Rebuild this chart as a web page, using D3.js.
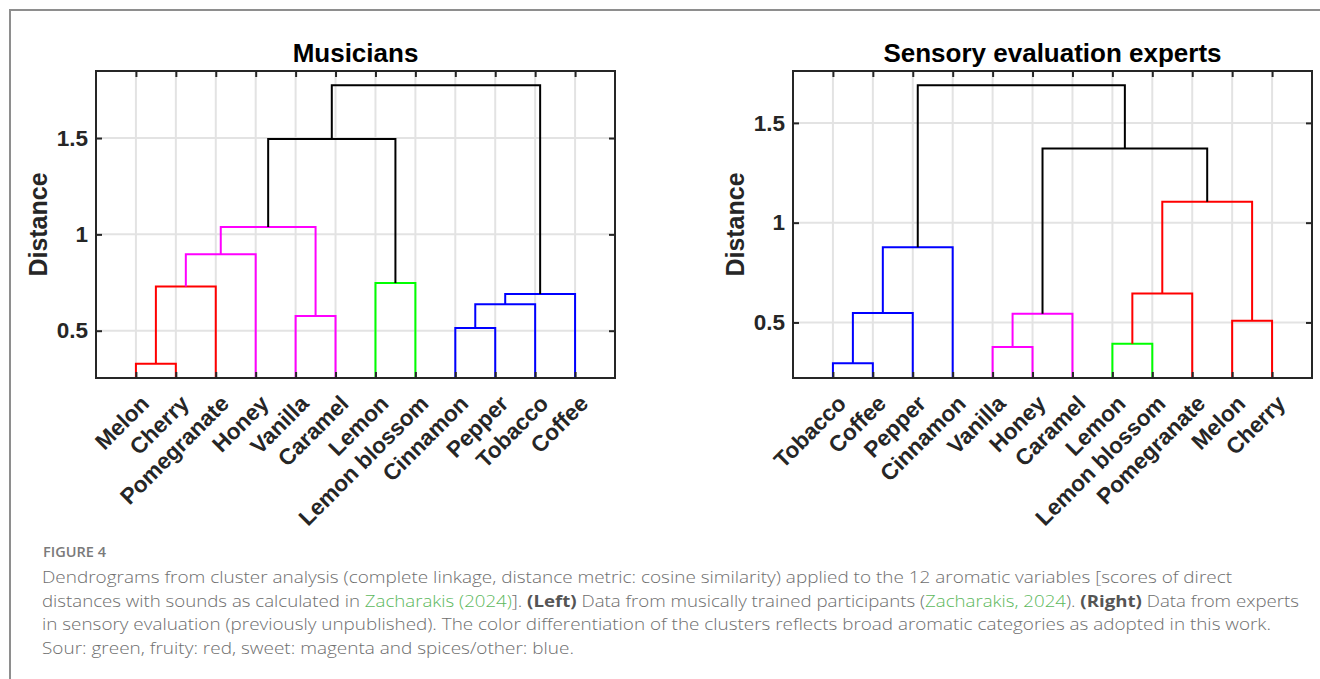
<!DOCTYPE html>
<html>
<head>
<meta charset="utf-8">
<script src="https://cdn.jsdelivr.net/npm/d3@7"></script>
<style>
  body { margin: 0; background: #fff; }
  svg { display: block; }
</style>
</head>
<body>
<script>
// leaves in the order they are drawn (left panel: musicians, right panel: sensory experts)
var leftLeaves = ["Melon", "Cherry", "Pomegranate", "Honey", "Vanilla", "Caramel",
                  "Lemon", "Lemon blossom", "Cinnamon", "Pepper", "Tobacco", "Coffee"];
// merges: leaves are 0-11, merged nodes are numbered from 12 on (like a linkage matrix)
var leftMerges = [[0, 1], [12, 2], [13, 3], [4, 5], [14, 15], [6, 7], [16, 17],
                  [8, 9], [19, 10], [20, 11], [18, 21]];
var leftHeights = [0.328, 0.730, 0.897, 0.576, 1.038, 0.747, 1.495, 0.514, 0.637, 0.690, 1.774];
var leftGroups = ["fruity", "fruity", "sweet", "sweet", "sweet", "sour", "none",
                  "spices", "spices", "spices", "none"];
var leftYLim = [0.2545, 1.848];

var rightLeaves = ["Tobacco", "Coffee", "Pepper", "Cinnamon", "Vanilla", "Honey", "Caramel",
                   "Lemon", "Lemon blossom", "Pomegranate", "Melon", "Cherry"];
var rightMerges = [[0, 1], [12, 2], [13, 3], [4, 5], [15, 6], [7, 8], [17, 9],
                   [10, 11], [18, 19], [16, 20], [14, 21]];
var rightHeights = [0.295, 0.547, 0.877, 0.377, 0.543, 0.393, 0.645, 0.508, 1.105, 1.372, 1.689];
var rightGroups = ["spices", "spices", "spices", "sweet", "sweet", "sour", "fruity",
                   "fruity", "fruity", "none", "none"];
var rightYLim = [0.2216, 1.760];

var yTicks = [0.5, 1, 1.5];

var groupColor = d3.scaleOrdinal()
    .domain(["sour", "fruity", "sweet", "spices", "none"])
    .range(["#00ff00", "#ff0000", "#ff00ff", "#0000ff", "#000000"]);

var W = 1320, H = 679;
var plotW = 519, plotTop = 71, plotBottom = 378;
var axisColor = "#262626";
var font = "'Liberation Sans', Arial, Helvetica, sans-serif";

var svg = d3.select("body").append("svg")
    .attr("width", W)
    .attr("height", H)
    .style("background", "#fff");

// figure border (only left and top are inside the crop)
svg.append("path")
    .attr("d", "M10," + H + "V10H" + W)
    .attr("fill", "none")
    .attr("stroke", "#8e8e8e")
    .attr("stroke-width", 2);

function dendrogram(cfg) {
    var g = svg.append("g");
    var x = d3.scaleLinear().domain([0, cfg.leaves.length + 1]).range([cfg.left, cfg.left + plotW]);
    var y = d3.scaleLinear().domain(cfg.ylim).range([plotBottom, plotTop]);

    // grid
    g.append("g").selectAll("line").data(d3.range(1, cfg.leaves.length + 1)).join("line")
        .attr("x1", d => x(d)).attr("x2", d => x(d))
        .attr("y1", plotTop).attr("y2", plotBottom)
        .attr("stroke", "#e3e3e3").attr("stroke-width", 2);
    g.append("g").selectAll("line").data(yTicks).join("line")
        .attr("x1", cfg.left).attr("x2", cfg.left + plotW)
        .attr("y1", d => y(d)).attr("y2", d => y(d))
        .attr("stroke", "#e3e3e3").attr("stroke-width", 2);

    // node positions: leaves at 1..n, merged nodes at the middle of their children
    var pos = cfg.leaves.map((d, i) => ({ x: i + 1, h: 0 }));
    cfg.merges.forEach(function (m, i) {
        pos.push({ x: (pos[m[0]].x + pos[m[1]].x) / 2, h: cfg.heights[i] });
    });

    var clipId = "clip" + cfg.left;
    svg.append("clipPath").attr("id", clipId).append("rect")
        .attr("x", cfg.left).attr("y", plotTop)
        .attr("width", plotW).attr("height", plotBottom - plotTop);

    g.append("g").attr("clip-path", "url(#" + clipId + ")")
        .selectAll("path").data(cfg.merges).join("path")
        .attr("d", function (m, i) {
            var a = pos[m[0]], b = pos[m[1]], h = cfg.heights[i];
            return "M" + x(a.x) + "," + y(a.h) + "V" + y(h) + "H" + x(b.x) + "V" + y(b.h);
        })
        .attr("fill", "none")
        .attr("stroke", (m, i) => groupColor(cfg.groups[i]))
        .attr("stroke-width", 2);

    // axes, ticks inside like matlab
    var xb = g.append("g").attr("transform", "translate(0," + plotBottom + ")")
        .call(d3.axisBottom(x).tickValues(d3.range(1, cfg.leaves.length + 1))
            .tickSize(-6).tickFormat(d => cfg.leaves[d - 1]));
    xb.selectAll("text")
        .attr("y", null).attr("dy", null)
        .attr("text-anchor", "end")
        .attr("transform", "translate(14,27) rotate(-45)");

    g.append("g").attr("transform", "translate(0," + plotTop + ")")
        .call(d3.axisTop(x).tickValues(d3.range(1, cfg.leaves.length + 1)).tickSize(-6).tickFormat(""));

    g.append("g").attr("transform", "translate(" + cfg.left + ",0)")
        .call(d3.axisLeft(y).tickValues(yTicks).tickSize(-6).tickPadding(8).tickFormat(d3.format("")));

    g.append("g").attr("transform", "translate(" + (cfg.left + plotW) + ",0)")
        .call(d3.axisRight(y).tickValues(yTicks).tickSize(-6).tickFormat(""));

    g.selectAll(".domain").remove();
    g.selectAll(".tick line").attr("stroke", axisColor).attr("stroke-width", 2);
    g.selectAll(".tick text")
        .attr("fill", axisColor)
        .style("font-family", font)
        .style("font-weight", "bold")
        .style("font-size", "22.5px");

    // frame
    g.append("rect")
        .attr("x", cfg.left).attr("y", plotTop)
        .attr("width", plotW).attr("height", plotBottom - plotTop)
        .attr("fill", "none").attr("stroke", axisColor).attr("stroke-width", 2);

    g.append("text")
        .attr("x", cfg.left + plotW / 2).attr("y", 62)
        .attr("text-anchor", "middle")
        .style("font-family", font).style("font-weight", "bold").style("font-size", "26px")
        .text(cfg.title);

    g.append("text")
        .attr("transform", "translate(" + (cfg.left - 49) + "," + ((plotTop + plotBottom) / 2) + ") rotate(-90)")
        .attr("text-anchor", "middle")
        .attr("fill", axisColor)
        .style("font-family", font).style("font-weight", "bold").style("font-size", "25px")
        .text("Distance");
}

dendrogram({ left: 96, title: "Musicians", leaves: leftLeaves, merges: leftMerges,
             heights: leftHeights, groups: leftGroups, ylim: leftYLim });
dendrogram({ left: 793, title: "Sensory evaluation experts", leaves: rightLeaves, merges: rightMerges,
             heights: rightHeights, groups: rightGroups, ylim: rightYLim });

// caption
var capFont = "'Open Sans', Lato, sans-serif";
svg.append("text")
    .attr("x", 43).attr("y", 557)
    .attr("textLength", 63).attr("lengthAdjust", "spacingAndGlyphs")
    .attr("fill", "#7a7a7a")
    .style("font-family", capFont).style("font-weight", 600).style("font-size", "13.5px")
    .text("FIGURE 4");

var captionLines = [
    { len: 1190, parts: [["Dendrograms from cluster analysis (complete linkage, distance metric: cosine similarity) applied to the 12 aromatic variables [scores of direct", ""]] },
    { len: 1257, parts: [["distances with sounds as calculated in ", ""], ["Zacharakis (2024)", "link"], ["]. ", ""],
                         ["(Left)", "b"], [" Data from musically trained participants (", ""], ["Zacharakis, 2024", "link"],
                         ["). ", ""], ["(Right)", "b"], [" Data from experts", ""]] },
    { len: 1229, parts: [["in sensory evaluation (previously unpublished). The color differentiation of the clusters reflects broad aromatic categories as adopted in this work.", ""]] },
    { len: 532, parts: [["Sour: green, fruity: red, sweet: magenta and spices/other: blue.", ""]] }
];

captionLines.forEach(function (line, i) {
    var t = svg.append("text")
        .attr("x", 42).attr("y", 583 + i * 23.7)
        .attr("textLength", line.len).attr("lengthAdjust", "spacingAndGlyphs")
        .attr("fill", "#6e6e6e")
        .style("font-family", capFont).style("font-size", "16.5px").style("font-weight", 300);
    line.parts.forEach(function (p) {
        var s = t.append("tspan").text(p[0]);
        if (p[1] === "link") s.attr("fill", "#5cb85c");
        if (p[1] === "b") s.attr("fill", "#555").style("font-weight", 700);
    });
});
</script>
</body>
</html>
